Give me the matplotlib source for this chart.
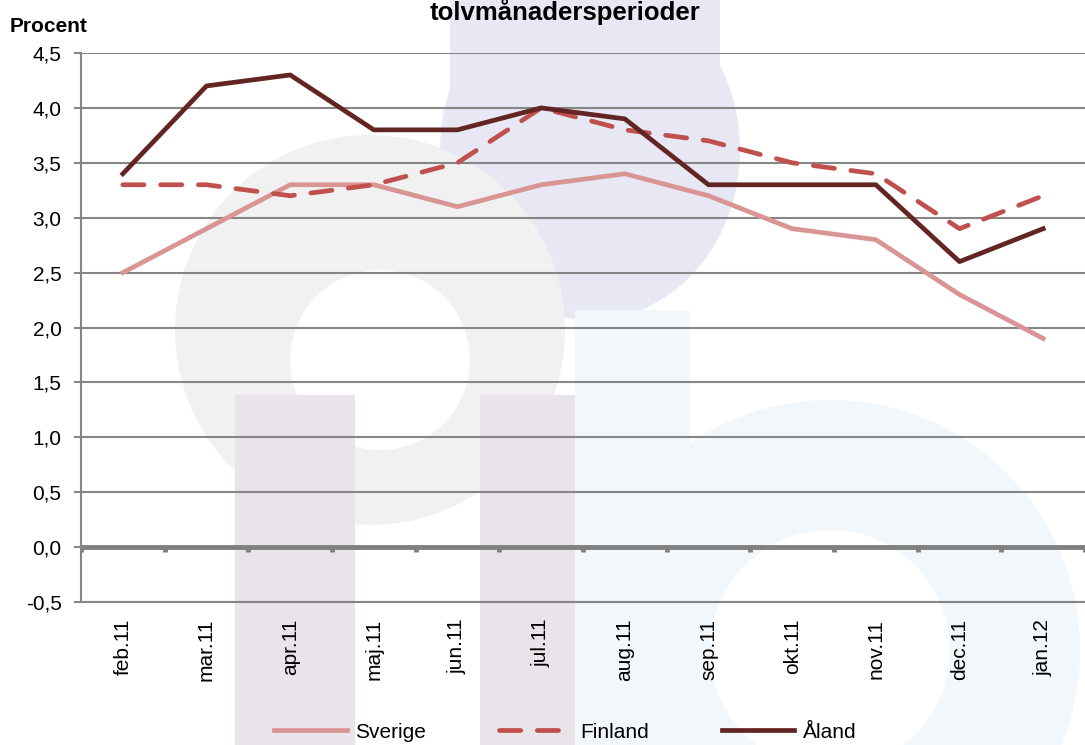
import numpy as np
import matplotlib.pyplot as plt
from matplotlib.patches import Circle, Rectangle, Ellipse

plt.rcParams['font.family'] = ['Liberation Sans', 'DejaVu Sans']

months = ['feb.11', 'mar.11', 'apr.11', 'maj.11', 'jun.11', 'jul.11',
          'aug.11', 'sep.11', 'okt.11', 'nov.11', 'dec.11', 'jan.12']
sverige = [2.5, 2.9, 3.3, 3.3, 3.1, 3.3, 3.4, 3.2, 2.9, 2.8, 2.3, 1.9]
finland = [3.3, 3.3, 3.2, 3.3, 3.5, 4.0, 3.8, 3.7, 3.5, 3.4, 2.9, 3.2]
aland = [3.4, 4.2, 4.3, 3.8, 3.8, 4.0, 3.9, 3.3, 3.3, 3.3, 2.6, 2.9]
yticks = np.arange(-0.5, 4.51, 0.5)

fig = plt.figure(figsize=(10.85, 7.45), dpi=100)

# faint watermark logo in the background (figure pixel coords)
W, H = 1085, 745
bg = fig.add_axes([0, 0, 1, 1], zorder=0)
bg.set_xlim(0, W)
bg.set_ylim(H, 0)
bg.axis('off')
bg.add_patch(Ellipse((590, 150), 300, 340, color='#e7e8f4', lw=0))
bg.add_patch(Rectangle((450, 0), 270, 120, color='#e7e8f4', lw=0))
bg.add_patch(Circle((370, 330), 195, color='#f1f1f1', lw=0))
bg.add_patch(Circle((380, 360), 90, color='white', lw=0))
bg.add_patch(Rectangle((235, 395), 120, 350, color='#e9e4e9', lw=0))
bg.add_patch(Rectangle((480, 395), 120, 350, color='#e9e4e9', lw=0))
bg.add_patch(Circle((830, 650), 250, color='#f1f7fb', lw=0))
bg.add_patch(Circle((830, 650), 120, color='white', lw=0))
bg.add_patch(Rectangle((575, 310), 115, 435, color='#f1f7fb', lw=0))

ax = fig.add_axes([81 / W, 1 - 602 / H, 1 - 81 / W, 549 / H], zorder=1)
ax.patch.set_alpha(0)
x = np.arange(len(months))

ax.plot(x, sverige, color='#d99594', lw=3.4, label='Sverige', zorder=3)
ax.plot(x, finland, color='#c0504d', lw=3.4, ls=(0, (4.5, 3.5)),
        dash_capstyle='round', label='Finland', zorder=3)
ax.plot(x, aland, color='#632523', lw=3.4, label='Åland', zorder=4)

ax.set_xlim(-0.5, len(months) - 0.5)
ax.set_ylim(-0.5, 4.5)
ax.set_yticks(yticks)
ax.set_yticklabels([f'{v:.1f}'.replace('.', ',') for v in yticks], fontsize=15)
ax.tick_params(axis='y', length=5, color='#868686', width=1.5, pad=9)
ax.set_xticks(x)
ax.set_xticklabels(months, rotation=90, fontsize=15)
ax.tick_params(axis='x', length=0, pad=12)
ax.grid(axis='y', color='#868686', lw=1.5)
ax.set_axisbelow(True)

for s in ['top', 'right']:
    ax.spines[s].set_visible(False)
for s in ['left', 'bottom']:
    ax.spines[s].set_color('#868686')
    ax.spines[s].set_linewidth(1.5)

ax.axhline(0, color='#808080', lw=3.5, zorder=2)
ax.vlines(np.arange(len(months) + 1) - 0.5, -0.045, 0, color='#808080', lw=3.5, zorder=2)

fig.text(10 / W, 1 - 32 / H, 'Procent', fontsize=15, fontweight='bold', va='baseline')
fig.text(565 / W, 1 - 20 / H, 'tolvmånadersperioder', fontsize=18.5,
         fontweight='bold', ha='center', va='baseline')

fig.legend(loc='center', bbox_to_anchor=(565 / W, 1 - 732 / H), ncol=3,
           frameon=False, fontsize=15, handlelength=3.5, columnspacing=3.5,
           handletextpad=0.4)

fig.savefig('out.png', dpi=100)
